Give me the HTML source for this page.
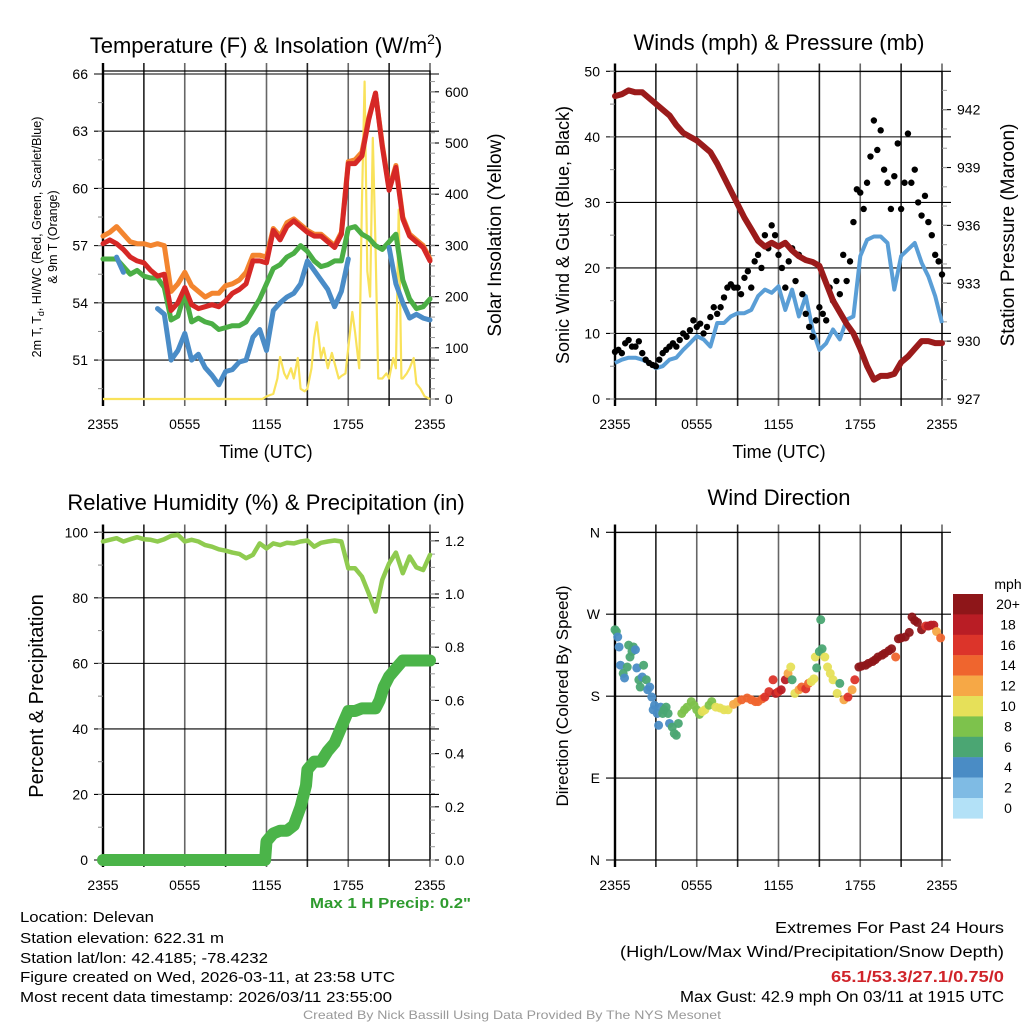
<!DOCTYPE html>
<html><head><meta charset="utf-8"><style>
html,body{margin:0;padding:0;background:#fff;}
svg{display:block;font-family:"Liberation Sans",sans-serif;}
</style></head><body>
<svg id="c" width="1024" height="1024" viewBox="0 0 1024 1024" xmlns="http://www.w3.org/2000/svg"></svg>
<script>
// ---------- DATA ----------
const times = [0,0.5,1,1.5,2,2.5,3,3.5,4,4.5,5,5.5,6,6.5,7,7.5,8,8.5,9,9.5,10,10.5,11,11.5,12,12.5,13,13.5,14,14.5,15,15.5,16,16.5,17,17.5,18,18.5,19,19.5,20,20.5,21,21.5,22,22.5,23,23.5,24];
const tempRed = [57.1,57.3,57.1,56.8,56.4,56.2,56.1,55.7,55.4,55.5,53.6,54.0,54.8,53.9,53.7,53.8,53.9,53.8,54.1,54.5,54.7,55.0,56.2,56.2,56.1,57.8,57.3,58.0,58.3,58.0,57.7,57.5,57.5,57.2,56.9,57.6,61.3,61.3,61.7,63.6,65.0,62.2,59.9,61.1,58.4,57.5,57.2,56.9,56.2];
const tempOrange = [57.5,57.7,58.0,57.6,57.2,57.1,57.1,57.0,57.1,57.0,54.6,55.0,55.6,54.9,54.6,54.3,54.5,54.5,54.9,55.0,55.2,55.6,56.5,56.5,56.4,57.9,57.5,58.2,58.4,58.1,57.8,57.6,57.6,57.3,57.0,57.7,61.4,61.5,61.9,63.7,65.0,62.3,60.0,61.2,58.5,57.6,57.3,57.0,56.3];
const tempGreen = [56.3,56.3,56.3,55.9,55.5,55.7,55.4,55.3,55.3,54.8,53.1,53.3,54.5,53.0,53.2,53.0,52.9,52.6,52.7,52.8,52.8,53.0,53.6,54.2,55.0,55.8,56.0,56.4,56.6,57.0,56.7,56.2,55.9,56.0,56.2,56.2,57.9,58.0,57.6,57.4,57.0,56.8,57.2,57.6,55.2,54.2,53.7,53.8,54.2];
const tempBlue = [null,null,56.4,55.6,null,55.2,null,null,53.7,53.4,51.0,51.5,52.4,51.0,51.3,50.6,50.2,49.7,50.4,50.5,50.9,51.0,52.2,52.6,51.5,53.6,54.0,54.3,54.5,55.0,56.2,55.7,55.2,54.7,53.8,54.6,56.3,null,null,null,null,null,56.9,55.0,54.0,53.2,53.4,53.2,53.1];
const solarTimes = [0,11.7,12,12.5,12.8,13,13.3,13.5,13.8,14,14.3,14.5,14.8,15,15.3,15.5,15.7,16,16.2,16.5,16.8,17,17.3,17.5,17.8,18,18.3,18.5,18.8,19,19.2,19.4,19.6,19.8,20,20.2,20.5,20.8,21,21.3,21.5,21.7,21.9,22,22.3,22.5,22.8,23,23.3,23.6,24];
const solarVals = [0,0,5,10,40,82,50,40,60,40,80,20,15,20,60,120,150,80,100,60,90,70,40,45,50,100,170,130,60,380,620,250,200,510,300,40,40,50,40,80,60,370,40,40,50,60,80,30,20,5,0];
const pressVals = [942.7,942.8,943.0,942.9,942.9,942.6,942.3,942.0,941.7,941.2,940.8,940.6,940.4,940.1,939.8,939.2,938.5,937.8,937.1,936.4,935.8,935.2,934.9,935.1,934.9,935.1,934.7,934.4,934.2,934.1,933.9,933.0,932.1,931.5,930.9,930.4,929.6,928.7,928.0,928.2,928.2,928.3,928.9,929.2,929.6,930.0,930.0,929.9,929.9];
const windVals = [5.5,6.0,6.3,6.3,6.0,5.5,4.7,5.0,6.0,6.3,7.5,8.5,9.6,9.1,8.0,11.6,11.6,12.6,13.1,13.1,13.6,15.7,16.7,16.2,17.2,13.6,16.7,12.6,15.7,10.6,7.5,8.5,10.6,9.1,12.1,12.6,21.8,24.3,24.8,24.8,23.8,16.7,21.8,22.8,23.8,20.8,18.7,15.7,11.6];
const gustTimes = [0,0.25,0.5,0.75,1,1.25,1.5,1.75,2,2.25,2.5,2.75,3,3.25,3.5,3.75,4,4.25,4.5,4.75,5,5.25,5.5,5.75,6,6.25,6.5,6.75,7,7.25,7.5,7.75,8,8.25,8.5,8.75,9,9.25,9.5,9.75,10,10.25,10.5,10.75,11,11.25,11.5,11.75,12,12.25,12.5,12.75,13,13.25,13.5,13.75,14,14.25,14.5,14.75,15,15.25,15.5,15.75,16,16.25,16.5,16.75,17,17.25,17.5,17.75,18,18.25,18.5,18.75,19,19.25,19.5,19.75,20,20.25,20.5,20.75,21,21.25,21.5,21.75,22,22.25,22.5,22.75,23,23.25,23.5,23.75,24];
const gustVals = [7.2,7.5,7.0,8.5,9.0,8.0,8.0,8.8,7.0,6.0,5.5,5.2,5.0,6.0,7.0,7.5,8.0,8.5,8.0,9.0,10.0,9.5,10.5,12.0,11.0,11.5,10.0,11.0,12.5,14.0,13.0,14.0,15.5,17.0,17.5,17.0,17.0,16.0,18.5,19.5,17.0,21.0,22.0,20.0,25.0,23.0,26.5,25.0,22.0,20.0,17.0,21.0,23.0,18.0,22.0,16.0,13.0,11.0,9.5,12.0,14.0,13.0,12.0,17.0,15.0,18.0,16.0,22.0,18.0,21.0,27.0,32.0,31.5,29.0,33.0,37.0,42.5,38.0,41.0,35.0,33.0,29.0,34.0,39.0,29.0,33.0,40.5,33.0,35.0,30.0,28.0,31.0,27.0,25.0,22.0,21.0,19.0];
const rhVals = [97.2,97.7,98.2,97.2,97.9,98.5,97.9,97.7,97.2,97.9,98.9,99.2,97.2,97.7,97.2,96.1,95.6,94.8,94.4,93.8,93.4,92.1,93.1,96.6,95.1,96.6,96.1,96.8,96.6,97.2,97.5,95.6,96.8,97.2,97.5,97.2,89.0,89.0,86.5,81.4,75.8,85.5,90.5,93.8,87.5,92.6,89.3,88.5,93.1];
const precipTimes = [0,11.9,12,12.5,13,13.5,14,14.5,14.9,15,15.5,16,16.5,17,17.5,18,18.5,19,20,20.3,20.6,21,21.5,22,24];
const precipVals = [0,0,0.07,0.10,0.11,0.11,0.13,0.20,0.28,0.34,0.37,0.37,0.41,0.44,0.50,0.56,0.56,0.57,0.57,0.60,0.65,0.69,0.72,0.75,0.75];
const dirTimes = [0,0.1,0.2,0.3,0.4,0.6,0.7,0.9,1.0,1.1, 1.25,1.35,1.5,1.6,1.75,1.85,2.0,2.1,2.3,2.4, 2.55,2.7,2.8,2.9,3.1,3.2,3.35,3.5,3.6,3.75, 3.9,4.0,4.2,4.35,4.5,4.65,4.9,5.1,5.3,5.6, 5.8,6.0,6.2,6.4,6.6,6.9,7.1,7.4,7.7,8.0, 8.3,8.7,9.0,9.3,9.7,10.0,10.3,10.5,10.8,11.0, 11.3,11.6,11.8,12.0,12.2,12.5,12.7,12.9,13.0,13.2, 13.5,13.7,14.0,14.2,14.4,14.6,14.7,14.8,15.0,15.1, 15.2,15.4,15.6,15.8,16.0,16.3,16.5,16.8,17.1,17.4, 17.6,17.9,18.1,18.4,18.6,18.9,19.1,19.3,19.6,19.8, 20.1,20.3,20.6,20.8,21.0,21.3,21.6,21.8,22.0,22.2, 22.5,22.8,23.0,23.2,23.4,23.6,23.9];
const dirVals = [253,251,245,234,214,205,200,212,236,223, 229,234,231,211,198,190,201,214,198,187, 190,179,165,170,161,148,168,161,165,168, 161,150,146,139,137,150,161,165,168,174, 170,165,160,163,165,170,174,168,167,165, 165,171,174,176,178,176,174,174,177,179, 185,198,183,185,187,198,205,212,198,183, 187,190,188,194,196,199,223,211,229,264, 232,223,212,205,198,183,194,176,179,187, 198,212,213,214,216,218,220,223,225,227, 230,232,223,243,244,245,250,267,263,261, 253,257,257,258,258,251,244];
const dirSpeeds = [7,7,5,4,4,7,5,7,7,6, 7,7,4,4,7,7,4,6,7,4, 4,4,4,4,4,4,4,7,6,7, 6,4,6,6,6,6,8,8,8,8, 8,9,8,10,10,8,8,10,10,11, 10,12,13,14,14,14,14,15,15,17, 17,17,18,17,18,18,12,10,7,10, 13,15,17,14,11,10,10,7,7,7, 7,10,10,10,10,10,7,12,17,12, 17,20,20,20,20,20,20,20,20,20, 20,20,14,20,20,20,20,20,20,20, 20,17,19,18,18,13,14];
const speedBins = ["0","2","4","6","8","10","12","14","16","18","20+"];
const binColors = ["#b3e1f7","#7fbbe4","#4a8cc5","#4ba673","#7dc24c","#e6e059","#f6a846","#ef652e","#dc342a","#b91d25","#8e1619"];
const tempTicks = [51,54,57,60,63,66];
const solarTicks = [0,100,200,300,400,500,600];
const windTicks = [0,10,20,30,40,50];
const pressTicks = [927,930,933,936,939,942];
const rhTicks = [0,20,40,60,80,100];
const precipTicks = [0,0.2,0.4,0.6,0.8,1.0,1.2];
const dirTicks = [0,90,180,270,360];
const dirLabels = ["N","E","S","W","N"];
const timeTicks = [0,6,12,18,24];
const timeLabels = ["2355","0555","1155","1755","2355"];

// ---------- helpers ----------
const NS="http://www.w3.org/2000/svg", svg=document.getElementById('c');
function el(tag,attrs,parent,txt){const e=document.createElementNS(NS,tag);for(const k in attrs)e.setAttribute(k,attrs[k]);if(txt!==undefined)e.textContent=txt;(parent||svg).appendChild(e);return e;}
function grp(name){const g=el('g',{});


return g;}
const X0a=103,X1a=430,X0b=615,X1b=942;
function xs(x0){return t=>x0+t*(327/24);}
function linePath(tArr,vArr,fx,fy){let d="",pen=false;for(let i=0;i<tArr.length;i++){const v=vArr[i];if(v===null||v===undefined){pen=false;continue;}d+=(pen?"L":"M")+fx(tArr[i]).toFixed(1)+" "+fy(v).toFixed(1);pen=true;}return d;}
function txt(parent,x,y,s,size,anchor,extra){const a={x:x,y:y,'font-size':size,'text-anchor':anchor||'middle',fill:'#000'};Object.assign(a,extra||{});return el('text',a,parent,s);}

function frame(g,x0,x1,yTop,yBot){
  for(let i=0;i<=8;i++){const x=x0+i*(x1-x0)/8;el('line',{x1:x,y1:yTop-8,x2:x,y2:yBot+7,stroke:(i%2? '#222':'#666'),'stroke-width':1.6},g);}
  el('rect',{x:x0,y:yTop,width:x1-x0,height:yBot-yTop,fill:'none',stroke:'#000','stroke-width':1.2},g);
  el('line',{x1:x0,y1:yTop-8,x2:x0,y2:yBot+7,stroke:'#000','stroke-width':2.4},g);
}
function hgrid(g,x0,x1,ticks,fy,labels,minorStep,lo,hi){
  ticks.forEach((v,i)=>{const y=fy(v);el('line',{x1:x0-9,y1:y,x2:x1+9,y2:y,stroke:'#000','stroke-width':1.1},g);txt(g,x0-15,y+5,labels?labels[i]:String(v),14,'end');});
  if(minorStep){for(let v=lo;v<=hi+1e-9;v+=minorStep){const y=fy(v);el('line',{x1:x0-5,y1:y,x2:x0,y2:y,stroke:'#888','stroke-width':1},g);}}
}
function rightAxis(g,x1,ticks,fy,fmt,minorStep,lo,hi){
  ticks.forEach(v=>{const y=fy(v);el('line',{x1:x1,y1:y,x2:x1+9,y2:y,stroke:'#000','stroke-width':1.1},g);txt(g,x1+15,y+5,fmt(v),14,'start');});
  for(let v=lo;v<=hi+1e-9;v+=minorStep){const y=fy(v);el('line',{x1:x1,y1:y,x2:x1+5,y2:y,stroke:'#999','stroke-width':1},g);}
}
function xLabels(g,fx,y){timeTicks.forEach((t,i)=>txt(g,fx(t),y,timeLabels[i],14,'middle'));}

// ---------- Panel 1 ----------
(function(){
 const g=grp('temperature-panel');const fx=xs(X0a);
 const fy=T=>74+(66-T)*19.07, fs=W=>399-W*0.512;
 frame(g,X0a,X1a,71,399);
 el('line',{x1:X0a,y1:74,x2:X1a,y2:74,stroke:'#000','stroke-width':1},g);
 hgrid(g,X0a,X1a,tempTicks,fy,null,1.5,49.5,64.5);
 rightAxis(g,X1a,solarTicks,fs,v=>String(v),20,0,620);
 const s=el('path',{d:linePath(solarTimes,solarVals,fx,fs),fill:'none',stroke:'#f9e25a','stroke-width':2.2,'stroke-linejoin':'round'},g);
 
 
 [[tempGreen,'#4bae45','dewpoint-line'],[tempBlue,'#4a8cc7','windchill-line'],[tempOrange,'#f3852f','9m-temp-line'],[tempRed,'#d62826','2m-temp-line']].forEach(([arr,c,n])=>{
   const p=el('path',{d:linePath(times,arr,fx,fy),fill:'none',stroke:c,'stroke-width':5,'stroke-linejoin':'round','stroke-linecap':'round'},g);
   
   
 });
 xLabels(g,fx,429);
 const t=el('text',{x:266,y:53,'font-size':22,'text-anchor':'middle'},g);
 t.innerHTML='Temperature (F) &amp; Insolation (W/m<tspan font-size="14" dy="-9">2</tspan><tspan dy="9">)</tspan>';
 
 
 txt(g,266,458,'Time (UTC)',18);
 const yl=el('text',{x:0,y:0,'font-size':12.5,'text-anchor':'middle',transform:'translate(41,237) rotate(-90)'},g);
 yl.innerHTML='2m T, T<tspan font-size="9" dy="3">d</tspan><tspan dy="-3">, HI/WC (Red, Green, Scarlet/Blue)</tspan>';
 txt(g,0,0,'& 9m T (Orange)',12.5,'middle',{transform:'translate(57,237) rotate(-90)'});
 txt(g,0,0,'Solar Insolation (Yellow)',19,'middle',{transform:'translate(501,235) rotate(-90)'});
})();

// ---------- Panel 2 ----------
(function(){
 const g=grp('winds-pressure-panel');const fx=xs(X0b);
 const fw=w=>399-w*6.553, fp=P=>399-(P-927)*19.29;
 frame(g,X0b,X1b,71.5,399);
 hgrid(g,X0b,X1b,windTicks,fw,null,5,0,50);
 rightAxis(g,X1b,pressTicks,fp,v=>String(v),1,927,943);
 const w=el('path',{d:linePath(times,windVals,fx,fw),fill:'none',stroke:'#5a9ed6','stroke-width':4,'stroke-linejoin':'round'},g);
 
 
 gustTimes.forEach((t,i)=>{const c=el('circle',{cx:fx(t),cy:fw(gustVals[i]),r:3.2,fill:'#000'},g);
   
   });
 const p=el('path',{d:linePath(times,pressVals,fx,fp),fill:'none',stroke:'#9b1b1b','stroke-width':6,'stroke-linejoin':'round','stroke-linecap':'round'},g);
 
 
 xLabels(g,fx,429);
 txt(g,779,50,'Winds (mph) & Pressure (mb)',22);
 txt(g,779,458,'Time (UTC)',18);
 txt(g,0,0,'Sonic Wind & Gust (Blue, Black)',18,'middle',{transform:'translate(569,235) rotate(-90)'});
 txt(g,0,0,'Station Pressure (Maroon)',19,'middle',{transform:'translate(1014,235) rotate(-90)'});
})();

// ---------- Panel 3 ----------
(function(){
 const g=grp('humidity-precip-panel');const fx=xs(X0a);
 const fr=v=>860-v*3.277, fp=v=>860-v*266;
 frame(g,X0a,X1a,532.5,860);
 hgrid(g,X0a,X1a,rhTicks,fr,null,10,0,100);
 rightAxis(g,X1a,precipTicks,fp,v=>v.toFixed(1),0.05,0,1.23);
 const r=el('path',{d:linePath(times,rhVals,fx,fr),fill:'none',stroke:'#8fcb4f','stroke-width':4.5,'stroke-linejoin':'round','stroke-linecap':'round'},g);
 
 
 const pp=el('path',{d:linePath(precipTimes,precipVals,fx,fp),fill:'none',stroke:'#4bb449','stroke-width':12,'stroke-linejoin':'round','stroke-linecap':'round'},g);
 
 
 xLabels(g,fx,890);
 txt(g,266,510,'Relative Humidity (%) & Precipitation (in)',22);
 txt(g,0,0,'Percent & Precipitation',20,'middle',{transform:'translate(43,696) rotate(-90)'});
 txt(g,471,908,'Max 1 H Precip: 0.2"',15,'end',{fill:'#2e9b2e','font-weight':'bold',textLength:161,lengthAdjust:'spacingAndGlyphs'});
})();

// ---------- Panel 4 ----------
(function(){
 const g=grp('wind-direction-panel');const fx=xs(X0b);
 const fd=d=>860-d*0.9103;
 frame(g,X0b,X1b,532.5,860);
 hgrid(g,X0b,X1b,dirTicks,fd,dirLabels,0,0,0);
 const binOf=s=>Math.min(10,Math.max(0,Math.floor(s/2)));
 const n=Math.min(dirTimes.length,dirVals.length,dirSpeeds.length);
 for(let i=0;i<n;i++){const c=el('circle',{cx:fx(dirTimes[i]),cy:fd(dirVals[i]),r:4.5,fill:binColors[binOf(dirSpeeds[i])],'fill-opacity':0.95},g);
   
   }
 xLabels(g,fx,890);
 txt(g,779,505,'Wind Direction',22);
 txt(g,0,0,'Direction (Colored By Speed)',17,'middle',{transform:'translate(568,696) rotate(-90)'});
 const lg=grp('speed-colorbar');
 txt(lg,1008,589,'mph',14);
 for(let i=0;i<11;i++){const k=10-i;const y=594+i*20.4;
   const r=el('rect',{x:953,y:y,width:30,height:20.6,fill:binColors[k]},lg);
   
   
   txt(lg,1008,y+15,speedBins[k],14);}
})();

// ---------- footer ----------
(function(){
 const g=grp('footer-info');
 const L=["Location: Delevan","Station elevation: 622.31 m","Station lat/lon: 42.4185; -78.4232","Figure created on Wed, 2026-03-11, at 23:58 UTC","Most recent data timestamp: 2026/03/11 23:55:00"];
 const W=[134,204,248,375,372];
 const Y=[922,943,963,982,1002];
 L.forEach((s,i)=>txt(g,20,Y[i],s,15,'start',{textLength:W[i],lengthAdjust:'spacingAndGlyphs'}));
 txt(g,1004,933,'Extremes For Past 24 Hours',15.5,'end',{textLength:229,lengthAdjust:'spacingAndGlyphs'});
 txt(g,1004,957,'(High/Low/Max Wind/Precipitation/Snow Depth)',15.5,'end',{textLength:384,lengthAdjust:'spacingAndGlyphs'});
 txt(g,1004,982,'65.1/53.3/27.1/0.75/0',15.5,'end',{fill:'#d0242a','font-weight':'bold',textLength:173,lengthAdjust:'spacingAndGlyphs'});
 txt(g,1004,1002,'Max Gust: 42.9 mph On 03/11 at 1915 UTC',15.5,'end',{textLength:324,lengthAdjust:'spacingAndGlyphs'});
 txt(g,512,1019,'Created By Nick Bassill Using Data Provided By The NYS Mesonet',12,'middle',{fill:'#999',textLength:418,lengthAdjust:'spacingAndGlyphs'});
})();
</script>
</body></html>
